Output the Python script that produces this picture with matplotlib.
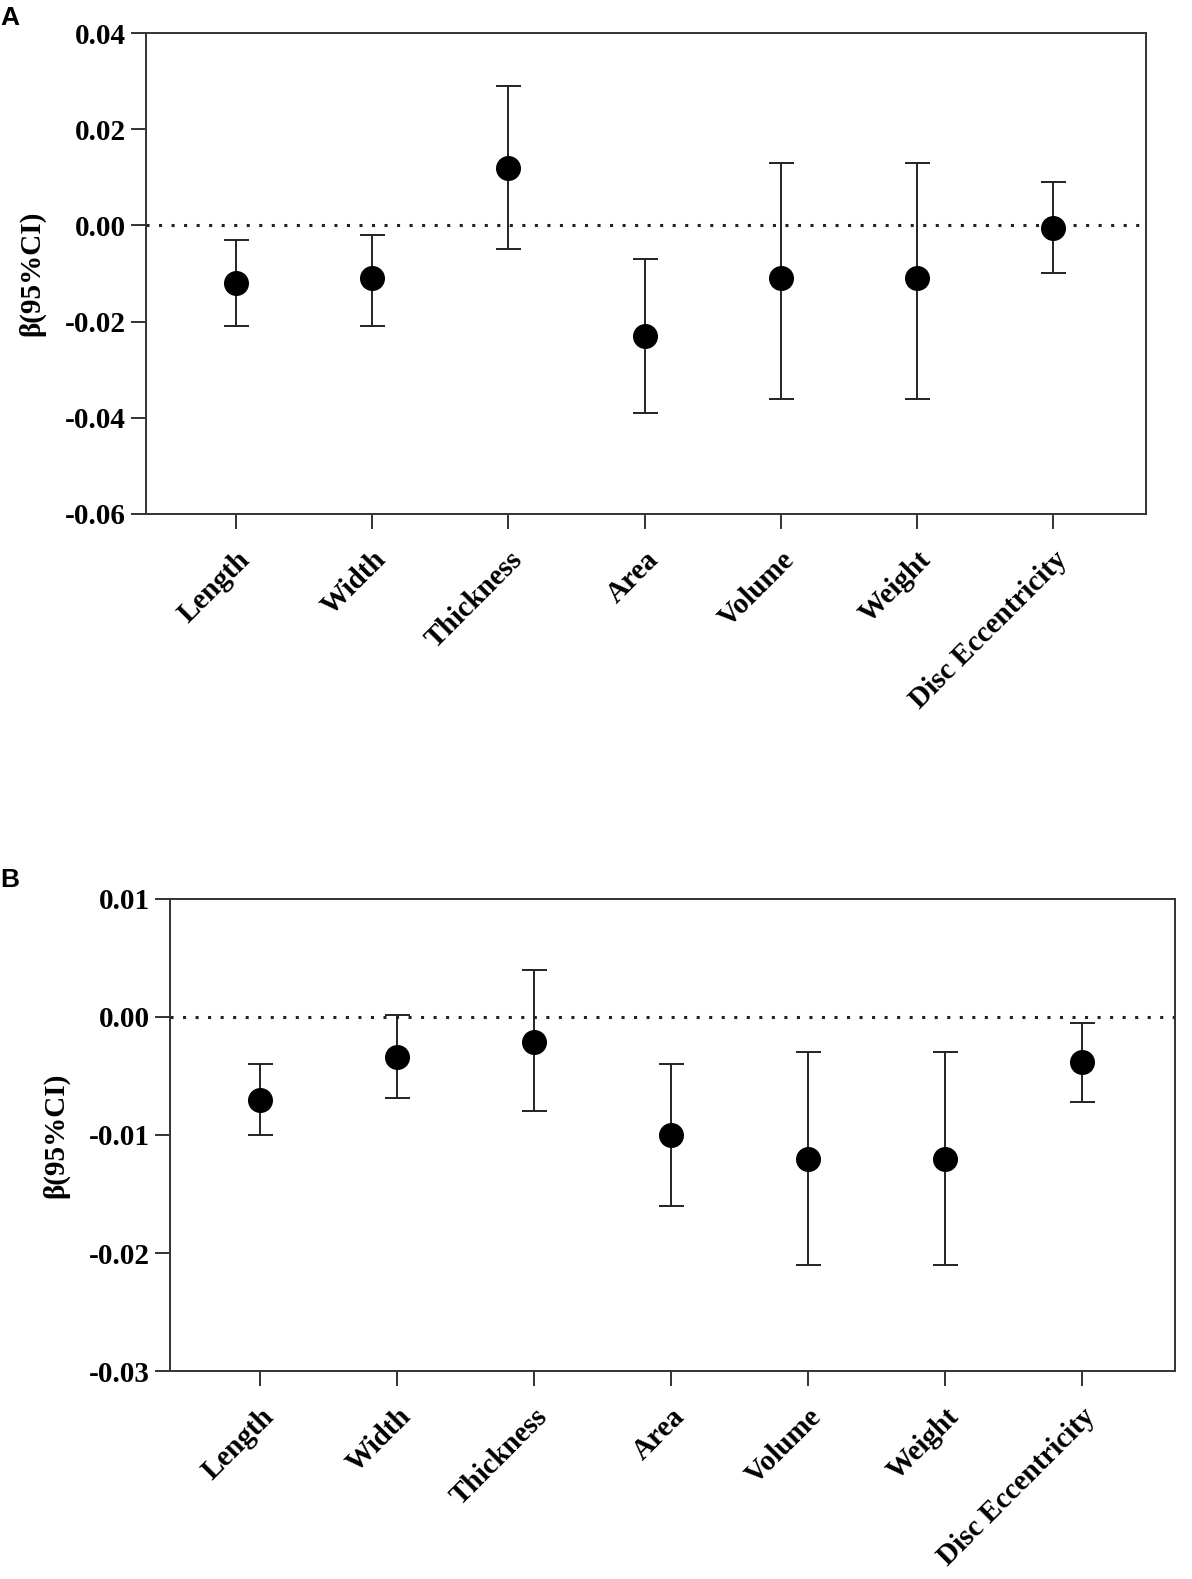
import numpy as np
import matplotlib.pyplot as plt

# === 資料 ===
categories = ["Length", "Width", "Thickness", "Area", "Volume", "Weight", "Disc Eccentricity"]

beta_a = [-0.012, -0.011, 0.012, -0.023, -0.011, -0.011, -0.0005]
low_a = [-0.021, -0.021, -0.005, -0.039, -0.036, -0.036, -0.010]
high_a = [-0.003, -0.002, 0.029, -0.007, 0.013, 0.013, 0.009]

beta_b = [-0.007, -0.0034, -0.0021, -0.010, -0.012, -0.012, -0.0038]
low_b = [-0.010, -0.0069, -0.008, -0.016, -0.021, -0.021, -0.0072]
high_b = [-0.004, 0.0002, 0.004, -0.004, -0.003, -0.003, -0.0005]

yticks_a = [0.04, 0.02, 0.00, -0.02, -0.04, -0.06]
yticks_b = [0.01, 0.00, -0.01, -0.02, -0.03]

plt.rcParams['font.family'] = ['Liberation Serif', 'DejaVu Serif']
plt.rcParams['font.weight'] = 'bold'


def draw_panel(ax, beta, low, high, yticks):
    x = np.arange(len(categories))
    beta = np.array(beta)
    err = [beta - np.array(low), np.array(high) - beta]
    ax.axhline(0, color='#222222', lw=2.2, ls=(0, (1, 3.1)), zorder=1)
    ax.errorbar(x, beta, yerr=err, fmt='o', color='black', ms=17,
                elinewidth=1.4, capsize=9, capthick=1.4, ecolor='#222222', zorder=3)
    ax.set_xlim(-0.66, 6.68)
    ax.set_ylim(min(yticks), max(yticks))
    ax.set_yticks(yticks)
    ax.set_yticklabels([f"{t:.2f}" for t in yticks], fontsize=21, fontweight='bold')
    ax.set_xticks(x)
    ax.set_xticklabels(categories, rotation=45, ha='right', rotation_mode='anchor',
                       fontsize=21, fontweight='bold')
    ax.set_ylabel("β(95%CI)", fontsize=21, fontweight='bold', labelpad=14)
    ax.tick_params(axis='both', direction='out', length=11, width=1.4, color='#333333')
    ax.tick_params(axis='x', pad=12)
    for s in ax.spines.values():
        s.set_linewidth(1.4)
        s.set_color('#333333')


fig = plt.figure(figsize=(11.92, 15.79), dpi=100)
ax_a = fig.add_axes([0.1225, 0.6745, 0.8389, 0.3046])
ax_b = fig.add_axes([0.1426, 0.1317, 0.8431, 0.2990])

draw_panel(ax_a, beta_a, low_a, high_a, yticks_a)
draw_panel(ax_b, beta_b, low_b, high_b, yticks_b)

fig.text(0.0, 0.9886, "A", fontsize=19, fontweight='bold', family='Liberation Sans', va='center')
fig.text(0.0, 0.4427, "B", fontsize=19, fontweight='bold', family='Liberation Sans', va='center')

fig.savefig("out.png", dpi=100, facecolor='white')
